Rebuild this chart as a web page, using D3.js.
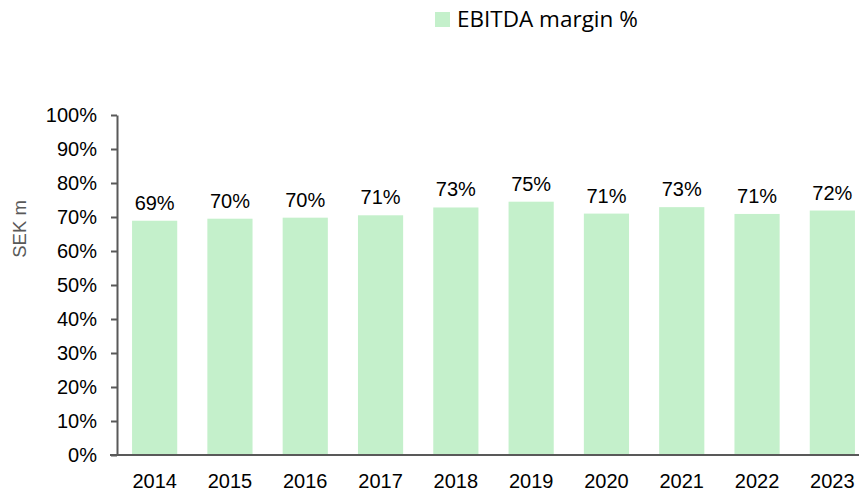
<!DOCTYPE html>
<html>
<head>
<meta charset="utf-8">
<script src="https://cdn.jsdelivr.net/npm/d3@7"></script>
<style>
  body { margin: 0; background: #fff; }
  svg { display: block; }
</style>
</head>
<body>
<div id="chart"></div>
<script>
// data
const YEARS = ['2014','2015','2016','2017','2018','2019','2020','2021','2022','2023'];
const MARGIN_VALUES = [68.9, 69.5, 69.8, 70.5, 72.8, 74.5, 71.0, 72.9, 70.9, 71.9];
const MARGIN_LABELS = ['69%','70%','70%','71%','73%','75%','71%','73%','71%','72%'];
const Y_TICKS = [0,10,20,30,40,50,60,70,80,90,100];
const SERIES_NAME = 'EBITDA margin %';

const WIDTH = 859, HEIGHT = 494;
const PLOT = {left: 117, top: 115, bottom: 455, right: 870};
const BAR_COLOR = '#c4f0cb';
const AXIS_COLOR = '#595959';
const FONT = '"Liberation Sans", Arial, sans-serif';

const svg = d3.select('#chart').append('svg')
    .attr('width', WIDTH)
    .attr('height', HEIGHT);

//scales
const x = d3.scaleBand()
    .domain(YEARS)
    .range([PLOT.left, PLOT.right])
    .paddingInner(0.4)
    .paddingOuter(0.2);

const y = d3.scaleLinear()
    .domain([0, 100])
    .range([PLOT.bottom, PLOT.top]);

//bars
svg.selectAll('rect.bar')
    .data(MARGIN_VALUES)
    .enter()
    .append('rect')
    .attr('class', 'bar')
    .attr('x', (d, i) => x(YEARS[i]))
    .attr('y', d => y(d))
    .attr('width', x.bandwidth())
    .attr('height', d => y(0) - y(d))
    .attr('fill', BAR_COLOR);

//value labels
svg.selectAll('text.val')
    .data(MARGIN_VALUES)
    .enter()
    .append('text')
    .attr('class', 'val')
    .attr('x', (d, i) => x(YEARS[i]) + x.bandwidth() / 2)
    .attr('y', d => y(d) - 11)
    .attr('text-anchor', 'middle')
    .style('font-family', FONT)
    .style('font-size', '20px')
    .attr('fill', '#000')
    .text((d, i) => MARGIN_LABELS[i]);

//y axis
const yAxis = d3.axisLeft(y)
    .tickValues(Y_TICKS)
    .tickFormat(d => d + '%')
    .tickSize(6)
    .tickSizeOuter(0)
    .tickPadding(14);

const gy = svg.append('g')
    .attr('transform', 'translate(' + PLOT.left + ',0)')
    .call(yAxis);
gy.select('.domain').attr('stroke', AXIS_COLOR).attr('stroke-width', 2);
gy.selectAll('.tick line').attr('stroke', AXIS_COLOR).attr('stroke-width', 2);
gy.selectAll('.tick text')
    .style('font-family', FONT)
    .style('font-size', '20px')
    .attr('fill', '#000');

//x axis
const xAxis = d3.axisBottom(x)
    .tickSize(0)
    .tickSizeOuter(0)
    .tickPadding(19);

const gx = svg.append('g')
    .attr('transform', 'translate(0,' + PLOT.bottom + ')')
    .call(xAxis);
gx.select('.domain').remove();
gx.append('line')
    .attr('x1', PLOT.left - 7)
    .attr('x2', WIDTH)
    .attr('stroke', AXIS_COLOR)
    .attr('stroke-width', 2);
gx.selectAll('.tick text')
    .style('font-family', FONT)
    .style('font-size', '20px')
    .attr('fill', '#000');

//y axis title
svg.append('text')
    .attr('transform', 'translate(26,229) rotate(-90)')
    .attr('text-anchor', 'middle')
    .style('font-family', FONT)
    .style('font-size', '18.5px')
    .attr('fill', '#595959')
    .text('SEK m');

//legend
const legend = svg.append('g').attr('transform', 'translate(435,12)');
legend.append('rect')
    .attr('width', 15)
    .attr('height', 15)
    .attr('fill', BAR_COLOR);
legend.append('text')
    .attr('x', 22)
    .attr('y', 15)
    .style('font-family', '"Open Sans", sans-serif')
    .style('font-size', '22.5px')
    .attr('fill', '#000')
    .text(SERIES_NAME);
</script>
</body>
</html>
